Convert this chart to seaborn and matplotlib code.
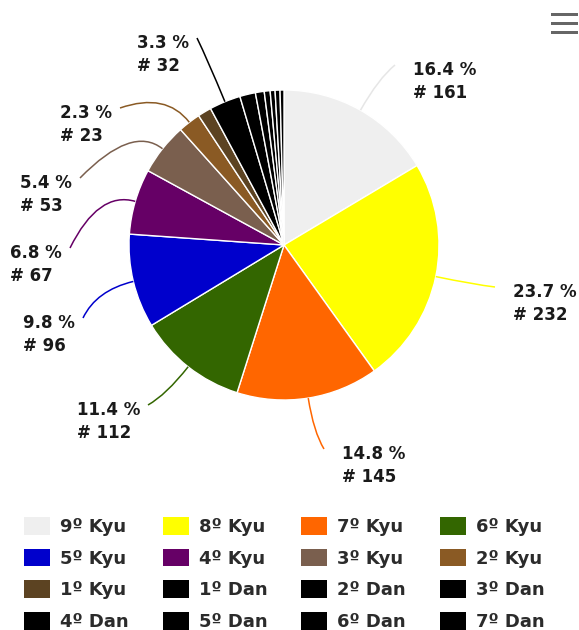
import matplotlib
matplotlib.use("Agg")
import matplotlib.pyplot as plt
import seaborn as sns
import numpy as np
from matplotlib.path import Path
from matplotlib.patches import PathPatch, Patch, Rectangle

# ---------------- data ----------------
categories = ["9º Kyu", "8º Kyu", "7º Kyu", "6º Kyu", "5º Kyu", "4º Kyu",
              "3º Kyu", "2º Kyu", "1º Kyu", "1º Dan", "2º Dan", "3º Dan",
              "4º Dan", "5º Dan", "6º Dan", "7º Dan"]
counts = [161, 232, 145, 112, 96, 67, 53, 23, 14, 32, 16, 9, 6, 5, 5, 4]
colors = ["#EFEFEF", "#FFFF00", "#FF6600", "#336600", "#0000CC", "#660066",
          "#7A5F4E", "#8A5A24", "#5C4322", "#000000", "#000000", "#000000",
          "#000000", "#000000", "#000000", "#000000"]
connector_colors = {"9º Kyu": "#E6E6E6"}

# label layout: connector end point (pixels, y measured from top), side
label_layout = {
    "9º Kyu": (395, 65, "right"),
    "8º Kyu": (495, 287, "right"),
    "7º Kyu": (324, 449, "right"),
    "6º Kyu": (148, 405, "left"),
    "5º Kyu": (83, 318, "left"),
    "4º Kyu": (70, 248, "left"),
    "3º Kyu": (80, 178, "left"),
    "2º Kyu": (120, 108, "left"),
    "1º Dan": (197, 38, "left"),
}

# ---------------- figure ----------------
W, H = 579, 630
sns.set_theme(style="white")
plt.rcParams["font.family"] = ["DejaVu Sans"]
fig = plt.figure(figsize=(W / 100, H / 100), dpi=100)
ax = fig.add_axes([0, 0, 1, 1])

cx, cy, R = 284, H - 245, 155
wedges, _ = ax.pie(counts, colors=colors, startangle=90, counterclock=False,
                   center=(cx, cy), radius=R,
                   wedgeprops=dict(edgecolor="white", linewidth=1))
ax.set_xlim(0, W)
ax.set_ylim(0, H)
ax.set_aspect("equal")
ax.axis("off")

total = sum(counts)
txt_color = "#1a1a1a"
for w, cat, cnt, col in zip(wedges, categories, counts, colors):
    if cat not in label_layout:
        continue
    ex, ey_top, side = label_layout[cat]
    ey = H - ey_top
    mid = np.deg2rad((w.theta1 + w.theta2) / 2)
    d = np.array([np.cos(mid), np.sin(mid)])
    p0 = np.array([cx, cy]) + R * d
    dist = np.hypot(ex - cx, ey - cy)
    ctrl = np.array([cx, cy]) + (R + 0.65 * (dist - R)) * d
    path = Path([p0, ctrl, (ex, ey)], [Path.MOVETO, Path.CURVE3, Path.CURVE3])
    ax.add_patch(PathPatch(path, facecolor="none",
                           edgecolor=connector_colors.get(cat, col), lw=1.1))
    label = f"{cnt / total * 100:.1f} %\n# {cnt}"
    if side == "right":
        tx, ha = ex + 18, "left"
    else:
        tx, ha = ex - 8, "right"
    ax.text(tx, ey - 16.5, label, ha=ha, va="center", multialignment="left",
            fontsize=12, fontweight="bold", color=txt_color, linespacing=1.3)

# hamburger menu icon
for yy in (14, 23, 32):
    ax.add_patch(Rectangle((551, H - yy - 1.5), 27, 3, facecolor="#666666",
                           edgecolor="none"))

# legend (row-major order with 4 columns)
handles = [Patch(facecolor=c, edgecolor="none", label=l)
           for c, l in zip(colors, categories)]
order = [i + 4 * j for i in range(4) for j in range(4)]
fig.legend([handles[i] for i in order], [categories[i] for i in order],
           ncol=4, loc="upper left", bbox_to_anchor=(24 / W, 1 - 517 / H),
           frameon=False, borderpad=0, borderaxespad=0,
           handlelength=1.45, handleheight=1.15, handletextpad=0.55,
           columnspacing=1.87, labelspacing=0.69,
           prop=dict(size=13, weight="bold"), labelcolor="#2b2b2b")

fig.savefig("out.png", dpi=100)
